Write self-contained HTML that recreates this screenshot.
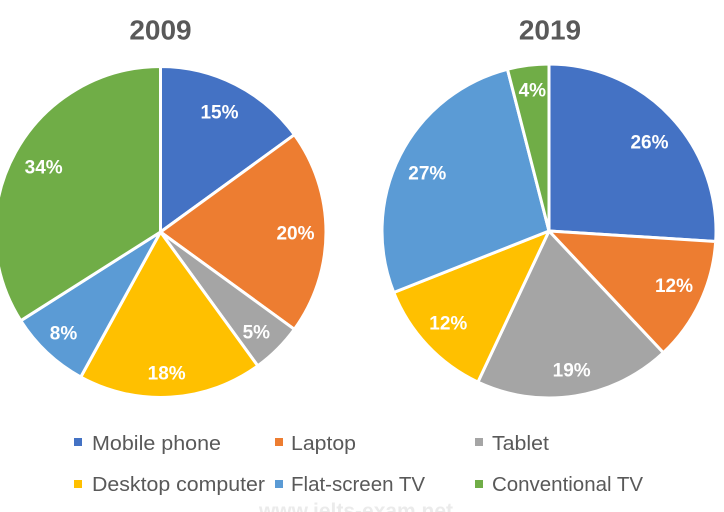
<!DOCTYPE html>
<html>
<head>
<meta charset="utf-8">
<style>
  html, body { margin: 0; padding: 0; background: #ffffff; }
  body { width: 724px; height: 512px; overflow: hidden; }
  svg { display: block; }
  .t { font-family: "Liberation Sans", Arial, sans-serif; }
</style>
</head>
<body>
<svg width="724" height="512" viewBox="0 0 724 512" xmlns="http://www.w3.org/2000/svg">
  <rect width="724" height="512" fill="#ffffff"/>

  <!-- Titles -->
  <text class="t" x="160.5" y="39.5" text-anchor="middle" font-size="28" font-weight="bold" fill="#595959">2009</text>
  <text class="t" x="550" y="39.5" text-anchor="middle" font-size="28" font-weight="bold" fill="#595959">2019</text>

  <!-- 2009 pie -->
  <g stroke="#ffffff" stroke-width="3" stroke-linejoin="round">
    <path d="M160.5,232 L160.5,66.5 A165.5,165.5 0 0 1 294.39,134.72 Z" fill="#4472C4"/>
    <path d="M160.5,232 L294.39,134.72 A165.5,165.5 0 0 1 294.39,329.28 Z" fill="#ED7D31"/>
    <path d="M160.5,232 L294.39,329.28 A165.5,165.5 0 0 1 257.78,365.89 Z" fill="#A5A5A5"/>
    <path d="M160.5,232 L257.78,365.89 A165.5,165.5 0 0 1 80.77,377.03 Z" fill="#FFC000"/>
    <path d="M160.5,232 L80.77,377.03 A165.5,165.5 0 0 1 20.76,320.68 Z" fill="#5B9BD5"/>
    <path d="M160.5,232 L20.76,320.68 A165.5,165.5 0 0 1 160.5,66.5 Z" fill="#70AD47"/>
  </g>

  <!-- 2019 pie -->
  <g stroke="#ffffff" stroke-width="3" stroke-linejoin="round">
    <path d="M549,231 L549,64 A167,167 0 0 1 715.67,241.49 Z" fill="#4472C4"/>
    <path d="M549,231 L715.67,241.49 A167,167 0 0 1 663.32,352.74 Z" fill="#ED7D31"/>
    <path d="M549,231 L663.32,352.74 A167,167 0 0 1 477.89,382.11 Z" fill="#A5A5A5"/>
    <path d="M549,231 L477.89,382.11 A167,167 0 0 1 393.73,292.48 Z" fill="#FFC000"/>
    <path d="M549,231 L393.73,292.48 A167,167 0 0 1 507.47,69.25 Z" fill="#5B9BD5"/>
    <path d="M549,231 L507.47,69.25 A167,167 0 0 1 549,64 Z" fill="#70AD47"/>
  </g>

  <!-- 2009 labels -->
  <g class="t" font-size="19" font-weight="bold" fill="#ffffff" text-anchor="middle">
    <text x="219.5" y="118.5">15%</text>
    <text x="295.5" y="239.5">20%</text>
    <text x="256.3" y="338.5">5%</text>
    <text x="166.7" y="379.5">18%</text>
    <text x="63.5" y="339.5">8%</text>
    <text x="43.7" y="173.5">34%</text>
  </g>

  <!-- 2019 labels -->
  <g class="t" font-size="19" font-weight="bold" fill="#ffffff" text-anchor="middle">
    <text x="532.3" y="96.3">4%</text>
    <text x="649.5" y="148.7">26%</text>
    <text x="427.3" y="179.7">27%</text>
    <text x="674" y="292">12%</text>
    <text x="571.7" y="376.3">19%</text>
    <text x="448.3" y="329.7">12%</text>
  </g>

  <!-- Legend -->
  <rect x="74" y="438" width="8" height="8" fill="#4472C4"/>
  <rect x="275" y="438" width="8" height="8" fill="#ED7D31"/>
  <rect x="475" y="438" width="8" height="8" fill="#A5A5A5"/>
  <rect x="74" y="480" width="8" height="8" fill="#FFC000"/>
  <rect x="275" y="480" width="8" height="8" fill="#5B9BD5"/>
  <rect x="475" y="480" width="8" height="8" fill="#70AD47"/>

  <g class="t" font-size="20" fill="#595959">
    <text x="92" y="450" textLength="129" lengthAdjust="spacingAndGlyphs">Mobile phone</text>
    <text x="291" y="450" textLength="65" lengthAdjust="spacingAndGlyphs">Laptop</text>
    <text x="492" y="450" textLength="57" lengthAdjust="spacingAndGlyphs">Tablet</text>
    <text x="92" y="491" textLength="173" lengthAdjust="spacingAndGlyphs">Desktop computer</text>
    <text x="291" y="491" textLength="134" lengthAdjust="spacingAndGlyphs">Flat-screen TV</text>
    <text x="492" y="491" textLength="151" lengthAdjust="spacingAndGlyphs">Conventional TV</text>
  </g>

  <!-- Watermark (partially cut off) -->
  <text class="t" x="356" y="518" text-anchor="middle" font-size="21" font-weight="bold" fill="#ebebeb">www.ielts-exam.net</text>
</svg>
</body>
</html>
